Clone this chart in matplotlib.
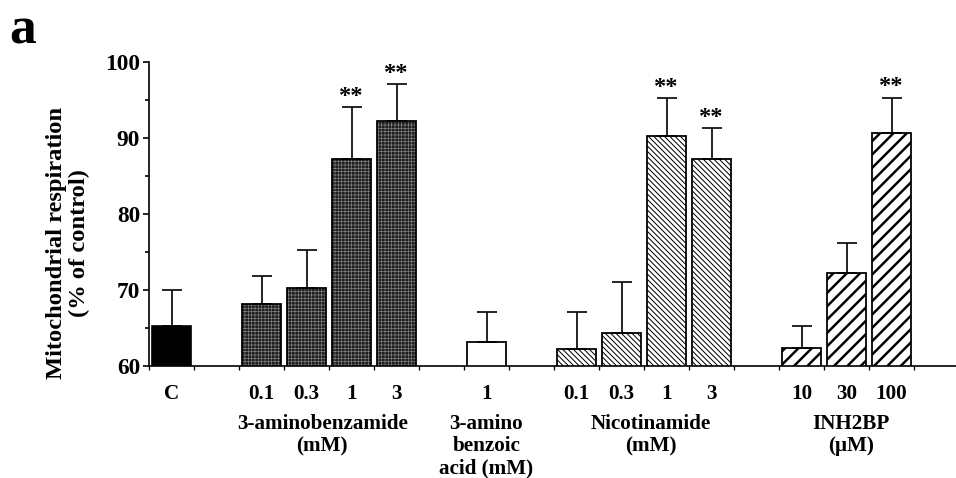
import numpy as np
import matplotlib
matplotlib.use('Agg')
import matplotlib.pyplot as plt
import matplotlib.transforms as mtransforms

plt.rcParams['font.family'] = ['Liberation Serif', 'DejaVu Serif']
plt.rcParams['font.weight'] = 'bold'

# values (% of control, bar value and upper error)
ctrl_label = ['C']
ctrl_vals = [65.2]
ctrl_err = [4.8]

ab_doses = ['0.1', '0.3', '1', '3']
ab_vals = [68.2, 70.2, 87.2, 92.3]
ab_err = [3.7, 5.0, 6.9, 4.8]
ab_sig = [False, False, True, True]

aba_doses = ['1']
aba_vals = [63.2]
aba_err = [3.9]

nic_doses = ['0.1', '0.3', '1', '3']
nic_vals = [62.3, 64.4, 90.2, 87.2]
nic_err = [4.8, 6.7, 5.0, 4.1]
nic_sig = [False, False, True, True]

inh_doses = ['10', '30', '100']
inh_vals = [62.4, 72.3, 90.7]
inh_err = [2.9, 3.9, 4.6]
inh_sig = [False, False, True]

dpi = 80
fig = plt.figure(figsize=(956 / dpi, 478 / dpi), dpi=dpi)
ax = fig.add_axes([149 / 956, 112 / 478, 807 / 956, 304 / 478])

W = 0.87
x_c = np.array([0]) + 0.5
x_ab = np.arange(2, 6) + 0.5
x_aba = np.array([7]) + 0.5
x_nic = np.arange(9, 13) + 0.5
x_inh = np.arange(14, 17) + 0.5

def hatch_lw(bars, lw):
    for b in bars:
        if hasattr(b, 'set_hatch_linewidth'):
            b.set_hatch_linewidth(lw)

# control
ax.bar(x_c, ctrl_vals, W, color='black', edgecolor='black', linewidth=1.5, zorder=2)

# 3-aminobenzamide: dark textured grid
bb = ax.bar(x_ab, ab_vals, W, color='#1e1e1e', edgecolor='#808080', hatch='++++', linewidth=0, zorder=2)
hatch_lw(bb, 0.6)
ax.bar(x_ab, ab_vals, W, fill=False, edgecolor='black', linewidth=1.6, zorder=3)

# 3-amino benzoic acid
ax.bar(x_aba, aba_vals, W, color='white', edgecolor='black', linewidth=1.6, zorder=2)

# nicotinamide
bb = ax.bar(x_nic, nic_vals, W, color='white', edgecolor='black', hatch='\\\\\\\\\\', linewidth=1.6, zorder=2)
hatch_lw(bb, 0.9)

# INH2BP
bb = ax.bar(x_inh, inh_vals, W, color='white', edgecolor='black', hatch='//', linewidth=1.6, zorder=2)
hatch_lw(bb, 2.2)

all_x = np.concatenate([x_c, x_ab, x_aba, x_nic, x_inh])
all_v = np.array(ctrl_vals + ab_vals + aba_vals + nic_vals + inh_vals)
all_e = np.array(ctrl_err + ab_err + aba_err + nic_err + inh_err)
all_s = [False] + ab_sig + [False] + nic_sig + inh_sig

ax.errorbar(all_x, all_v, yerr=[np.zeros_like(all_e), all_e], fmt='none', ecolor='black',
            elinewidth=1.5, capsize=9, capthick=1.5, zorder=4)

for xx, v, e, s in zip(all_x, all_v, all_e, all_s):
    if s:
        ax.text(xx, v + e + 0.7, '**', ha='center', va='baseline', fontsize=22, fontweight='bold')

ax.set_ylim(60, 100)
ax.set_xlim(0, 807 / 45)
ax.spines['top'].set_visible(False)
ax.spines['right'].set_visible(False)
ax.spines['left'].set_linewidth(1.5)
ax.spines['bottom'].set_linewidth(1.5)

ax.set_yticks([60, 70, 80, 90, 100])
ax.set_yticks([65, 75, 85, 95], minor=True)
ax.tick_params(axis='y', which='major', direction='out', length=5, width=1.5, labelsize=21, pad=3)
ax.tick_params(axis='y', which='minor', direction='out', length=4, width=1.5)

ax.set_xticks(np.arange(0, 18))
ax.set_xticklabels([])
ax.set_xticks(all_x, minor=True)
ax.set_xticklabels(ctrl_label + ab_doses + aba_doses + nic_doses + inh_doses, minor=True)
ax.tick_params(axis='x', which='major', direction='out', length=4, width=1.2)
ax.tick_params(axis='x', which='minor', length=0, labelsize=19, pad=16)

ax.set_ylabel('Mitochondrial respiration\n(% of control)', fontsize=22, fontweight='bold',
              linespacing=1.1)
ax.yaxis.set_label_coords(-0.073, 0.405)

trans = mtransforms.blended_transform_factory(ax.transData, fig.transFigure)
group_labels = [
    (3.85, '3-aminobenzamide\n(mM)'),
    (7.5, '3-amino\nbenzoic\nacid (mM)'),
    (11.15, 'Nicotinamide\n(mM)'),
    (15.6, 'INH2BP\n(\u03bcM)'),
]
for gx, txt in group_labels:
    ax.text(gx, 1 - 414 / 478, txt, transform=trans, ha='center', va='top',
            fontsize=19, fontweight='bold', linespacing=1.15)

fig.text(9 / 956, 1 - 44 / 478, 'a', fontsize=48, fontweight='bold', va='baseline', ha='left')

fig.savefig('out.png', dpi=dpi)
